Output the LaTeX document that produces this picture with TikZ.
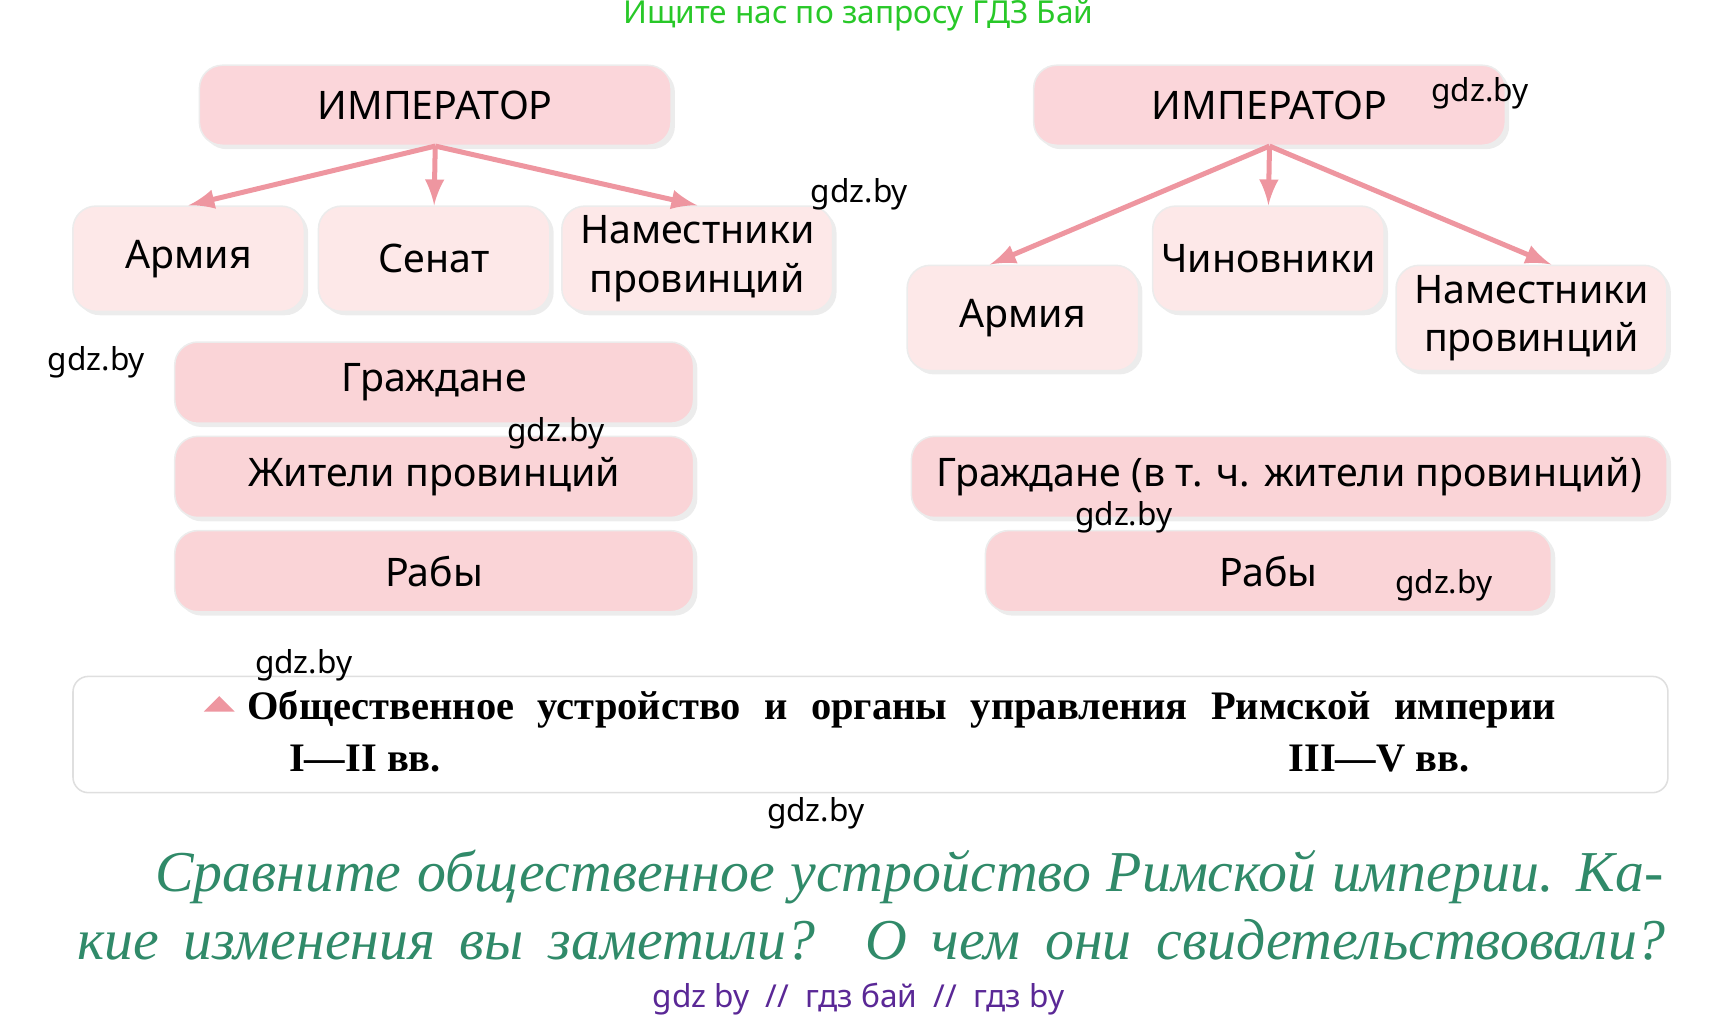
\documentclass[tikz,border=0pt]{standalone}
\usepackage{fontspec}
\setmainfont{Liberation Serif}
\newfontfamily\boxfont{Noto Sans}
\usetikzlibrary{shadows}
\definecolor{boxpink}{RGB}{251,214,218}
\definecolor{rowpink}{RGB}{250,212,215}
\definecolor{lightpink}{RGB}{253,232,232}
\definecolor{arrowpink}{RGB}{238,150,160}
\definecolor{qgreen}{RGB}{48,138,105}
\definecolor{topgreen}{RGB}{40,200,40}
\definecolor{linkpurple}{RGB}{90,40,150}
\tikzset{
  orgbox/.style={draw=white!85!gray, rounded corners=6pt, fill=lightpink,
    drop shadow={shadow xshift=1pt, shadow yshift=-1pt, opacity=.15},
    font=\boxfont\fontsize{10.2}{12.5}\selectfont, align=center, inner sep=0pt},
  headbox/.style={orgbox, fill=boxpink},
  rowbox/.style={orgbox, fill=rowpink},
  arr/.style={-latex, draw=arrowpink, line width=1.3pt},
  wmark/.style={font=\boxfont\fontsize{8.2}{10}\selectfont},
}
\begin{document}
\begin{tikzpicture}[x=0.01cm, y=-0.01cm]
  \useasboundingbox (0,0) rectangle (1568,929);
  \node[text=topgreen, font=\boxfont\fontsize{8.2}{10}\selectfont] (top) at (783,14) {Ищите нас по запросу ГДЗ Бай};

  % left scheme
  \node[headbox, minimum width=4.3cm, minimum height=0.73cm] (limp) at (397,96) {ИМПЕРАТОР};
  \node[orgbox, minimum width=2.11cm, minimum height=0.96cm] (larmy) at (172,236) {Армия};
  \node[orgbox, minimum width=2.11cm, minimum height=0.96cm] (lsen) at (396,236) {Сенат};
  \node[orgbox, minimum width=2.47cm, minimum height=0.96cm] (lnam) at (636,236) {Наместники\\провинций};
  \node[rowbox, minimum width=4.73cm, minimum height=0.74cm] (lcit) at (396,349) {Граждане};
  \node[rowbox, minimum width=4.73cm, minimum height=0.74cm] (lprov) at (396,435) {Жители провинций};
  \node[rowbox, minimum width=4.73cm, minimum height=0.74cm] (lslav) at (396,521) {Рабы};
  \draw[arr] (limp.south) -- (larmy.north);
  \draw[arr] (limp.south) -- (lsen.north);
  \draw[arr] (limp.south) -- (lnam.north);

  % right scheme
  \node[headbox, minimum width=4.3cm, minimum height=0.73cm] (rimp) at (1158,96) {ИМПЕРАТОР};
  \node[orgbox, minimum width=2.11cm, minimum height=0.96cm] (rchin) at (1157,236) {Чиновники};
  \node[orgbox, minimum width=2.11cm, minimum height=0.96cm] (rarmy) at (933,290) {Армия};
  \node[orgbox, minimum width=2.47cm, minimum height=0.96cm] (rnam) at (1397,290) {Наместники\\провинций};
  \node[rowbox, minimum width=6.89cm, minimum height=0.74cm] (rcit) at (1176,435) {Граждане (в т. ч. жители провинций)};
  \node[rowbox, minimum width=5.16cm, minimum height=0.74cm] (rslav) at (1157,521) {Рабы};
  \draw[arr] (rimp.south) -- (rarmy.north -| 903,0);
  \draw[arr] (rimp.south) -- (rchin.north);
  \draw[arr] (rimp.south) -- (rnam.north -| 1415,0);

  % caption
  \node[draw=gray!25, fill=white, rounded corners=4pt, minimum width=14.54cm, minimum height=1.06cm] (capbox) at (794,670) {};
  \fill[arrowpink] (186,649) -- (214,649) -- (200,635) -- cycle;
  \node[anchor=west, font=\bfseries\fontsize{10.5}{13}\selectfont, inner sep=0pt] (captxt) at (225,647)
    {\makebox[11.93cm][s]{Общественное устройство и органы управления Римской империи}};
  \node[font=\bfseries\fontsize{10.5}{13}\selectfont] (capl) at (333,692) {I—II вв.};
  \node[font=\bfseries\fontsize{10.5}{13}\selectfont] (capr) at (1258,692) {III—V вв.};

  % question
  \node[anchor=east, text=qgreen, font=\itshape\fontsize{15}{18}\selectfont, inner sep=0pt] (q1) at (1518,800)
    {\makebox[13.75cm][s]{Сравните общественное устройство Римской империи. Ка-}};
  \node[anchor=west, text=qgreen, font=\itshape\fontsize{15}{18}\selectfont, inner sep=0pt] (q2) at (70,857)
    {\makebox[14.48cm][s]{кие изменения вы заметили? О чем они свидетельствовали?}};
  \node[text=linkpurple, font=\boxfont\fontsize{8.2}{10}\selectfont] (links) at (783,911) {gdz by \ // \ гдз бай \ // \ гдз by};

  % marks
  \foreach \mx/\my in {1350/85, 784/177, 88/330, 507/395, 1025/472, 1317/534, 277/607, 744/742}
    \node[wmark] at (\mx,\my) {gdz.by};
\end{tikzpicture}
\end{document}
